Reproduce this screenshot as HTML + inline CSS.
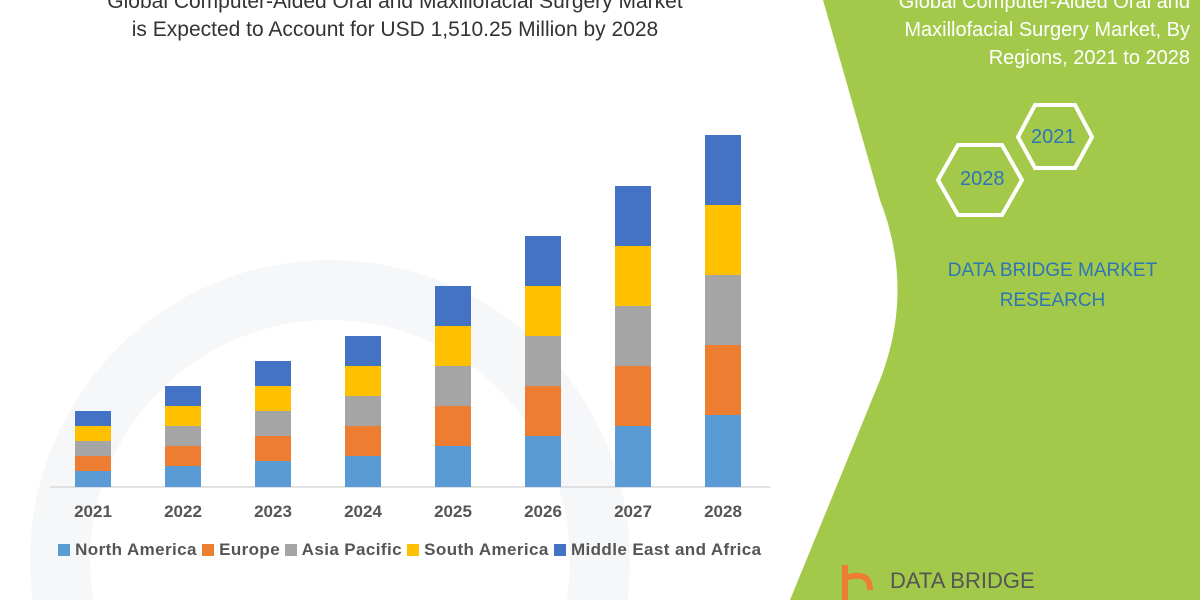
<!DOCTYPE html>
<html><head><meta charset="utf-8"><style>
html,body{margin:0;width:1200px;height:600px;overflow:hidden}
body{background:#fff;font-family:"Liberation Sans",sans-serif;position:relative}
.t{position:absolute;white-space:nowrap}
.sq{display:inline-block;width:12px;height:12px;vertical-align:-1px}
</style></head><body>
<svg width="1200" height="600" style="position:absolute;left:0;top:0;overflow:hidden">
<circle cx="330" cy="560" r="300" fill="#f6f7f9"/>
<circle cx="330" cy="560" r="240" fill="#fff"/>
<path d="M823,0 L1200,0 L1200,600 L790,600 L880,380 Q915,290 880,200 Z" fill="#a3c94b"/>
<g fill="none" stroke="#fff" stroke-width="4">
<polygon points="958,145 1002,145 1022,180 1002,215 958,215 938,180"/>
<polygon points="1035,105 1075,105 1092,137 1075,168 1035,168 1018,137"/>
</g>
<line x1="50" y1="487" x2="770" y2="487" stroke="#d9d9d9" stroke-width="1.5"/>
<g id="bars"></g>
<path d="M845,565 L845,600 M845,578 Q870,570 870,590" stroke="#ed7d31" stroke-width="6" fill="none"/>
</svg>
<div class="t" style="left:0;width:790px;top:-12px;text-align:center;font-size:21px;color:#333;line-height:28px">Global Computer-Aided Oral and Maxillofacial Surgery Market<br>is Expected to Account for USD 1,510.25 Million by 2028</div>
<div class="t" style="right:10px;top:-12px;text-align:right;font-size:20px;color:#fff;line-height:28px">Global Computer-Aided Oral and<br>Maxillofacial Surgery Market, By<br>Regions, 2021 to 2028</div>
<div class="t" style="left:960px;top:168px;font-size:20px;color:#2e75b6">2028</div>
<div class="t" style="left:1031px;top:126px;font-size:20px;color:#2e75b6">2021</div>
<div class="t" style="left:930px;width:245px;top:256px;text-align:center;font-size:19px;color:#2e75b6;line-height:30px">DATA BRIDGE MARKET<br>RESEARCH</div>
<div class="t" style="left:890px;top:568px;font-size:22px;color:#555;line-height:26px">DATA BRIDGE</div>
<div id="lab"></div>
<div class="t" style="left:58px;top:540px;font-size:17px;font-weight:bold;color:#555;line-height:20px;letter-spacing:0.4px">
<span class="sq" style="background:#5b9bd5"></span> North America <span class="sq" style="background:#ed7d31"></span> Europe <span class="sq" style="background:#a5a5a5"></span> Asia Pacific <span class="sq" style="background:#ffc000"></span> South America <span class="sq" style="background:#4472c4"></span> Middle East and Africa</div>
<script>
var tops=[[471,456,441,426,411],[466,446,426,406,386],[461,436,411,386,361],[456,426,396,366,336],[446,406,366,326,286],[436,386,336,286,236],[426,366,306,246,186],[415,345,275,205,135]];
var cols=["#5b9bd5","#ed7d31","#a5a5a5","#ffc000","#4472c4"];
var s="",l="";
for(var i=0;i<8;i++){var x=75+i*90,prev=487;
for(var k=0;k<5;k++){s+='<rect x="'+x+'" y="'+tops[i][k]+'" width="36" height="'+(prev-tops[i][k])+'" fill="'+cols[k]+'"/>';prev=tops[i][k];}
l+='<div class="t" style="left:'+(x-12)+'px;width:60px;text-align:center;top:502px;font-size:17px;font-weight:bold;color:#555">'+(2021+i)+'</div>';}
document.getElementById("bars").innerHTML=s;document.getElementById("lab").innerHTML=l;
</script>
</body></html>
